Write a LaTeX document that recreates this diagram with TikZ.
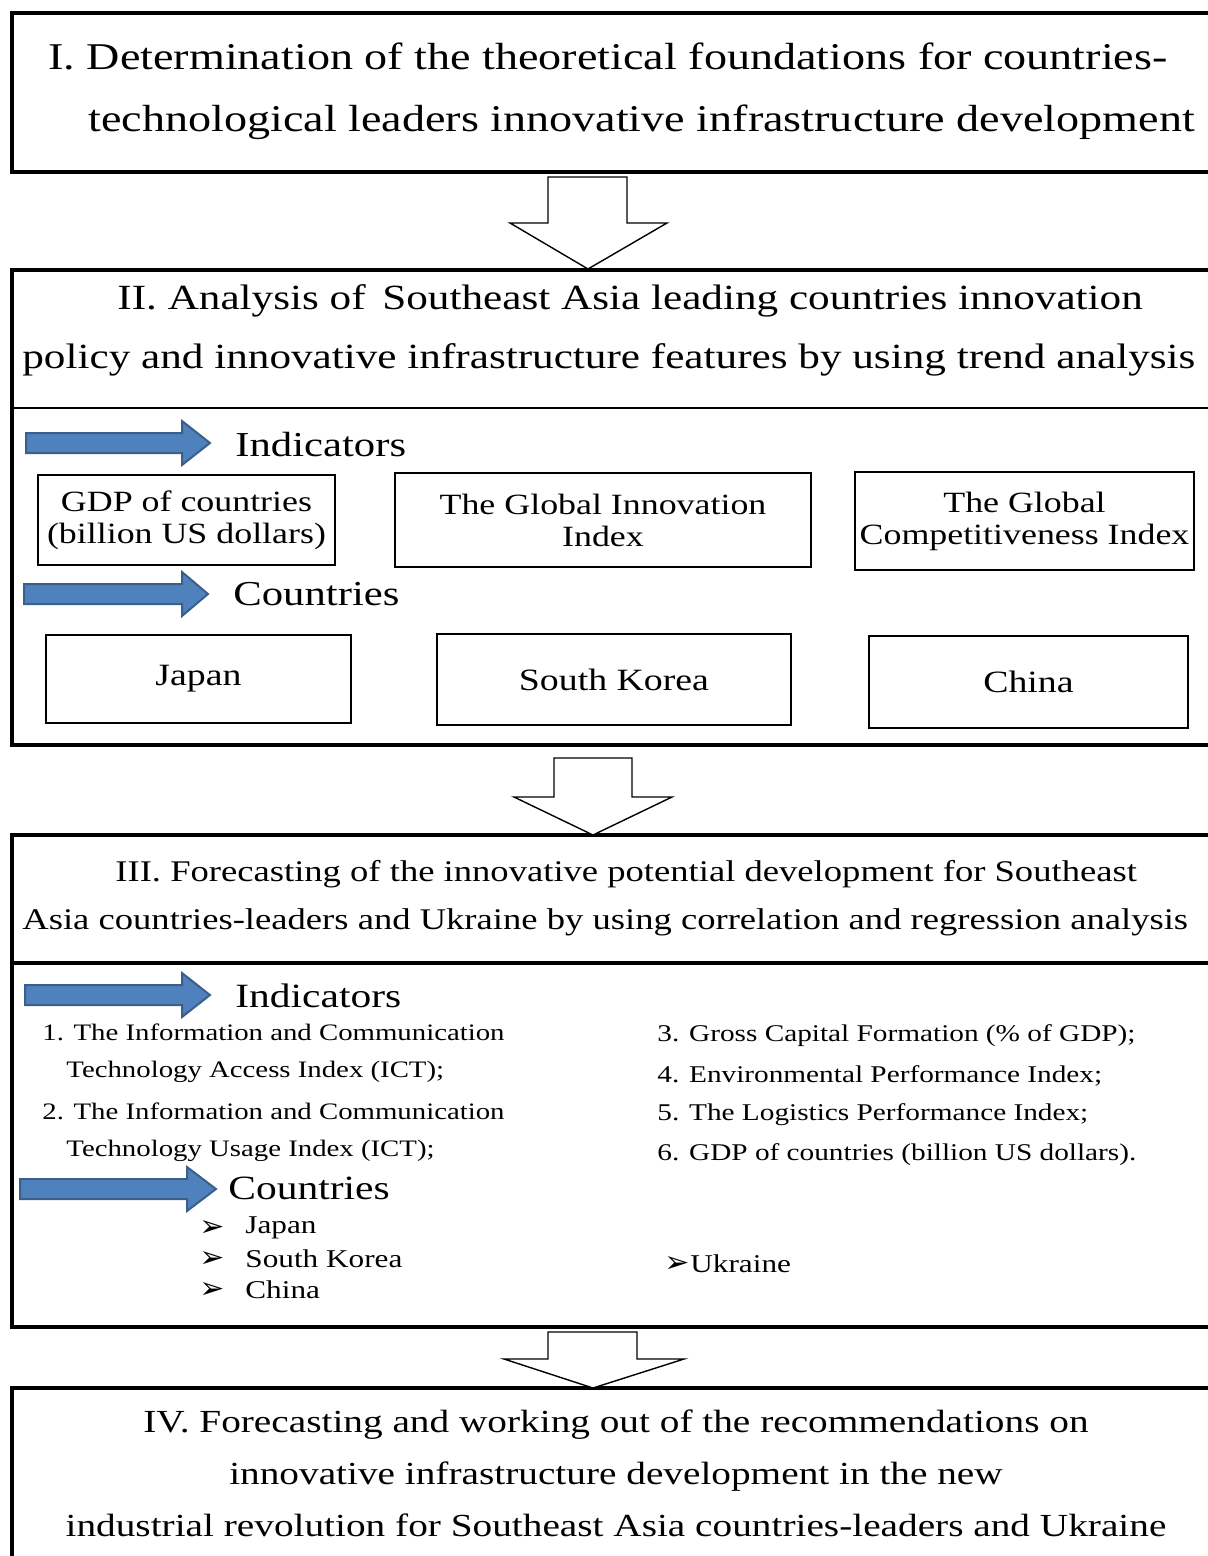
\documentclass[tikz,border=0pt]{standalone}
\usepackage{fontspec}
\setmainfont[FakeStretch=1.22]{Liberation Serif}
\newfontfamily\dingfont{DejaVu Sans}
\definecolor{arrowblue}{HTML}{4F81BD}
\definecolor{arrowedge}{HTML}{3A5F8B}
\newcommand\fs[2]{\fontsize{#1}{#2}\selectfont}

\tikzset{
  stageframe/.style={line width=2pt},
  sepline/.style={line width=0.9pt},
  infobox/.style={draw, line width=0.9pt, align=center, inner sep=0pt, font=\fs{14.7}{16}},
  countrybox/.style={draw, line width=0.9pt, inner sep=0pt, font=\fs{15.5}{18}},
  hollow/.style={draw, line width=0.7pt, fill=white, line join=miter},
  bluearrow/.style={fill=arrowblue, draw=arrowedge, line width=1pt},
  headtext/.style={inner sep=0pt, anchor=west, font=\fs{17.5}{20}},
  listitem/.style={inner sep=0pt, anchor=west, font=\fs{12}{14}},
  bulletmark/.style={inner sep=0pt, anchor=west, font=\dingfont\bfseries\fs{15}{16}},
  stagetext/.style={inner sep=0pt, align=left, anchor=west}
}

\begin{document}
\begin{tikzpicture}[x=0.5pt,y=-0.5pt]
\useasboundingbox (0,0) rectangle (1207,1556);
%% stage frames
\draw[stageframe] (12,13) rectangle (1214,172);
\draw[stageframe] (12,270) rectangle (1214,745);
\draw[sepline] (12,408) -- (1214,408);
\draw[stageframe] (12,835) rectangle (1214,1327);
\draw[stageframe] (12,963) -- (1214,963);
\draw[stageframe] (12,1388) rectangle (1214,1590);

%% stage titles
\node[stagetext, font=\fs{18.9}{31}] (stageI) at (48,91)
  {I. Determination of the theoretical foundations for countries-\\
   \hspace*{20pt}technological leaders innovative infrastructure development};
\node[stagetext, font=\fs{17.7}{29.5}] (stageII) at (22,330)
  {\hspace*{47.5pt}II. Analysis of\, Southeast Asia leading countries innovation\\
   policy and innovative infrastructure features by using trend analysis};
\node[stagetext, font=\fs{15}{24}] (stageIII) at (22,898)
  {\hspace*{46.5pt}III. Forecasting of the innovative potential development for Southeast\\
   Asia countries-leaders and Ukraine by using correlation and regression analysis};
\node[inner sep=0pt, align=center, font=\fs{16.1}{26}] (stageIV) at (616,1473)
  {IV. Forecasting and working out of the recommendations on\\
   innovative infrastructure development in the new\\
   industrial revolution for Southeast Asia countries-leaders and Ukraine};

%% hollow arrows between stages
\foreach \xl/\xr/\yt/\yn/\hl/\hr/\tx/\ty in {548/627/177/223/510/667/588/269,
    554/632/758/797/514/672/593/835, 548/637/1332/1359/504/684/593/1388}{
\draw[hollow] (\xl,\yt) -- (\xr,\yt) -- (\xr,\yn) -- (\hr,\yn) -- (\tx,\ty)
  -- (\hl,\yn) -- (\xl,\yn) -- cycle;
}

%% blue arrows
\foreach \xa/\xb/\xc/\y in {26/182/210/443, 24/182/208/594, 25/182/210/995, 20/187/216/1189}{
\draw[bluearrow] (\xa,\y-10) -- (\xb,\y-10) -- (\xb,\y-22) -- (\xc,\y)
  -- (\xb,\y+22) -- (\xb,\y+10) -- (\xa,\y+10) -- cycle;
}
\node[headtext] (indII) at (235,445) {Indicators};
\node[headtext] (ctrII) at (233,594) {Countries};
\node[headtext, font=\fs{17}{20}] (indIII) at (235,996) {Indicators};
\node[headtext, font=\fs{17}{20}] (ctrIII) at (228,1188) {Countries};

%% stage II indicators
\node[infobox, minimum width=148.5pt, minimum height=45pt] (gdp) at (186.5,520)
  {GDP of countries\\(billion US dollars)};
\node[infobox, minimum width=208pt, minimum height=47pt] (gii) at (603,520)
  {The Global Innovation\\Index};
\node[infobox, minimum width=169.5pt, minimum height=49pt] (gci) at (1024.5,521)
  {The Global\\Competitiveness Index};

%% stage II countries
\node[countrybox, minimum width=152.5pt, minimum height=44pt] (japan) at (198.5,679) {Japan};
\node[countrybox, minimum width=177pt, minimum height=45.5pt] (skorea) at (614,679.5) {South Korea};
\node[countrybox, minimum width=159.5pt, minimum height=46pt] (china) at (1028.5,682) {China};

%% stage III indicators
\foreach \n/\x/\y/\t in {a/42/1032/{1. The Information and Communication},
    b/66/1072/{Technology Access Index (ICT);},
    c/42/1111/{2. The Information and Communication},
    d/66/1151/{Technology Usage Index (ICT);}}{
\node[listitem, font=\fs{11.8}{14}] (ict\n) at (\x,\y) {\t};
}
\foreach \n/\y/\t in {3/1036/{3. Gross Capital Formation (\% of GDP);},
    4/1076/{4. Environmental Performance Index;},
    5/1115/{5. The Logistics Performance Index;},
    6/1155/{6. GDP of countries (billion US dollars).}}{
\node[listitem] (ind\n) at (657,\y) {\t};
}

%% stage III countries
\foreach \n/\y/\t in {jp/1228/Japan, kr/1259/South Korea, cn/1290/China}{
\node[bulletmark] (bul\n) at (199,\y) {➢};
\node[listitem, font=\fs{12.8}{14}] (ctr\n) at (245,\y) {\t};
}
\node[bulletmark] (bulua) at (664,1264) {➢};
\node[listitem, font=\fs{12.8}{14}] (ctrua) at (690,1264) {Ukraine};
\end{tikzpicture}
\end{document}
